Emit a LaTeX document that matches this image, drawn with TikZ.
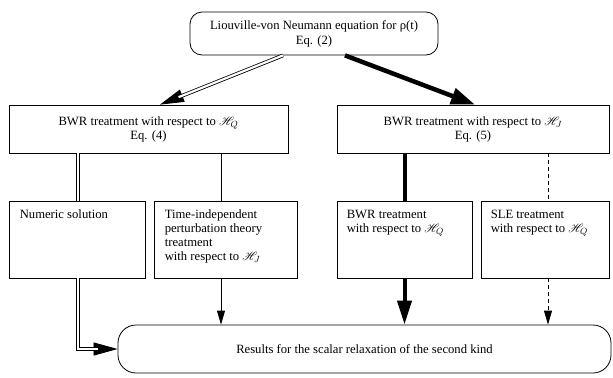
\documentclass[tikz,border=0pt]{standalone}
\usepackage{fontspec}
\usepackage{mathrsfs}
\setmainfont{Liberation Serif}
\usetikzlibrary{arrows.meta,calc}
\begin{document}
\begin{tikzpicture}[x=1bp,y=-1bp,
  font=\fontsize{12.7}{14}\selectfont,
  boxnode/.style={draw, line width=0.8bp, inner sep=0pt, align=center},
  txt/.style={anchor=north west, align=left, inner sep=0pt},
  dbl/.style={double, double distance=2.2bp, line width=0.8bp},
  thin/.style={line width=0.8bp},
  fat/.style={line width=4bp},
  dsh/.style={line width=0.8bp, dash pattern=on 4bp off 3bp},
  bigtip/.style={-{Triangle[length=24bp,width=13bp]}},
  smalltip/.style={-{Triangle[length=14bp,width=8bp]}}]
\useasboundingbox (0,0) rectangle (613,377);

\node[boxnode, rounded corners=12bp, minimum width=248bp, minimum height=43bp] (top) at (314,33.5)
  {Liouville-von Neumann equation for ρ(t)\\[1bp]Eq. (2)};
\node[boxnode, minimum width=279bp, minimum height=48bp] (bwrL) at (148.5,129)
  {BWR treatment with respect to $\mathscr{H}_Q$\\Eq. (4)};
\node[boxnode, minimum width=272bp, minimum height=48bp] (bwrR) at (473,129)
  {BWR treatment with respect to $\mathscr{H}_J$\\Eq. (5)};
\node[boxnode, minimum width=136bp, minimum height=77bp] (num) at (77,239.5) {};
\node[boxnode, minimum width=143bp, minimum height=77bp] (time) at (225.5,239.5) {};
\node[boxnode, minimum width=135bp, minimum height=77bp] (bwrq) at (404.5,239.5) {};
\node[boxnode, minimum width=128bp, minimum height=77bp] (sle) at (545,239.5) {};
\node[boxnode, rounded corners=18bp, minimum width=493bp, minimum height=48bp] (res) at (364.5,349)
  {Results for the scalar relaxation of the second kind};

\node[txt] (numtxt) at ($(num.north west)+(11,9)$) {Numeric solution};
\node[txt] (timetxt) at ($(time.north west)+(11,9)$)
  {Time-independent\\perturbation theory\\treatment\\with respect to $\mathscr{H}_J$};
\node[txt] (bwrqtxt) at ($(bwrq.north west)+(10,9)$)
  {BWR treatment\\with respect to $\mathscr{H}_Q$};
\node[txt] (sletxt) at ($(sle.north west)+(10,9)$)
  {SLE treatment\\with respect to $\mathscr{H}_Q$};

% top connectors
\coordinate (s1) at ($(top.south)+(-31,0)$);
\coordinate (e1) at ($(bwrL.north)+(11.5,0)$);
\draw[line width=0.8bp, bigtip] (s1) -- (e1);
\draw[dbl, shorten >=20bp] (s1) -- (e1);
\coordinate (s2) at ($(top.south)+(31,0)$);
\coordinate (e2) at ($(bwrR.north)+(2,0)$);
\draw[line width=4.5bp, -{Triangle[length=24bp,width=16bp]}] (s2) -- (e2);

% middle connectors
\coordinate (nx) at ($(num.north)+(1,0)$);
\draw[dbl] (nx |- bwrL.south) -- (nx);
\coordinate (tx) at ($(time.north)+(-4.5,0)$);
\draw[thin] (tx |- bwrL.south) -- (tx);
\draw[fat] (bwrq.north |- bwrR.south) -- (bwrq.north);
\coordinate (sx) at ($(sle.north)+(3,0)$);
\draw[dsh] (sx |- bwrR.south) -- (sx);

% bottom connectors
\coordinate (nb) at ($(num.south)+(1,0)$);
\draw[line width=0.8bp, bigtip] (nb) |- (res.west);
\draw[dbl, shorten >=20bp] (nb) |- (res.west);
\coordinate (tb) at ($(time.south)+(-4.5,0)$);
\draw[thin, smalltip] (tb) -- (tb |- res.north);
\draw[fat, -{Triangle[length=24bp,width=14bp]}] (bwrq.south) -- (bwrq.south |- res.north);
\coordinate (sb) at ($(sle.south)+(3,0)$);
\draw[dsh, smalltip] (sb) -- (sb |- res.north);
\end{tikzpicture}
\end{document}
